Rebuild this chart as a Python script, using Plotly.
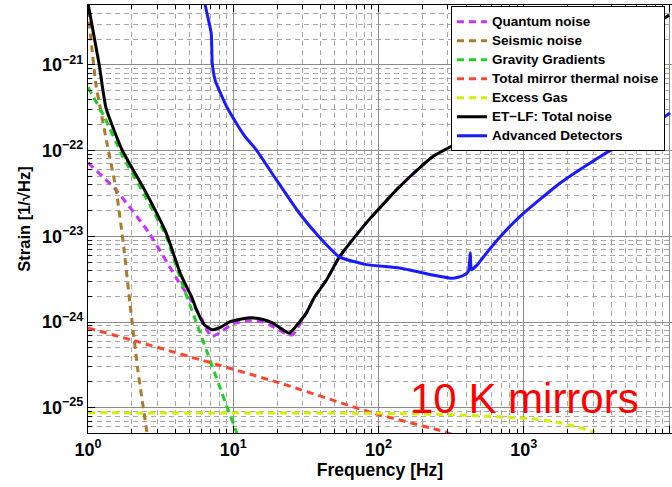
import plotly.graph_objects as go

# ---------------- data (strain stored as log10) -------------
quantum_f = [1.0, 1.56, 2.63, 4.24, 4.97, 6.0, 7.05, 8.0, 10.0, 12.9, 16.0, 18.6, 22.0, 25.5, 31.9, 36.2, 43.8, 53.8, 82.6, 139.6, 235.6, 444.9, 1000, 10000]
quantum_logh = [-22.14, -22.46, -22.96, -23.54, -23.71, -23.95, -24.17, -24.13, -24.02, -23.98, -24.0, -24.05, -24.12, -24.15, -23.89, -23.71, -23.51, -23.24, -22.84, -22.42, -22.07, -21.82, -21.46, -20.42]

seismic_f = [1.0, 1.07, 1.135, 1.35, 1.56, 1.77, 1.95, 2.2, 2.55, 2.75]
seismic_logh = [-20.35, -20.85, -21.23, -21.91, -22.45, -23.15, -23.8, -24.55, -25.3, -25.7]

gravity_f = [1.0, 1.29, 1.716, 2.51, 3.45, 4.36, 5.53, 6.51, 8.0, 9.1, 10.5, 11.5]
gravity_logh = [-21.26, -21.6, -22.05, -22.55, -23.0, -23.51, -23.99, -24.32, -24.74, -25.0, -25.28, -25.5]

thermal_f = [1.0, 2.01, 6.83, 20.8, 90.9, 285, 330]
thermal_logh = [-24.07, -24.21, -24.47, -24.71, -25.06, -25.28, -25.32]

gas_f = [1.0, 100, 300, 760, 1150, 1700, 2400, 3100]
gas_logh = [-25.06, -25.065, -25.08, -25.11, -25.13, -25.17, -25.23, -25.29]

etlf_f = [1.0, 1.19, 1.33, 1.716, 2.51, 3.45, 4.36, 5.21, 5.56, 6.3, 7.17, 8.2, 9.38, 12.9, 16.0, 18.6, 21.5, 24.3, 27.0, 31.9, 36.2, 43.8, 53.8, 82.6, 139.6, 235.6, 444.9, 1000, 10000]
etlf_logh = [-20.28, -20.98, -21.50, -21.99, -22.49, -22.96, -23.45, -23.72, -23.85, -24.03, -24.09, -24.06, -24.0, -23.95, -23.97, -24.01, -24.08, -24.13, -24.05, -23.89, -23.71, -23.51, -23.24, -22.84, -22.42, -22.07, -21.82, -21.46, -20.42]

adv_f = [6.2, 6.41, 7.05, 7.17, 7.51, 8.26, 9.09, 10.5, 12.1, 14.4, 19.8, 28.5, 39.2, 53.8, 82.6, 139.6, 235.6, 324, 380, 415, 428, 436, 480, 556, 683, 938, 1771, 3343, 6310, 10160]
adv_logh = [-20.1, -20.30, -20.63, -20.98, -21.18, -21.35, -21.50, -21.68, -21.84, -21.99, -22.34, -22.73, -23.01, -23.24, -23.33, -23.37, -23.45, -23.49, -23.46, -23.41, -23.19, -23.39, -23.33, -23.19, -23.01, -22.77, -22.38, -22.07, -21.79, -21.56]

series_names = ["Quantum noise", "Seismic noise", "Gravity Gradients",
                "Total mirror thermal noise", "Excess Gas",
                "ET\u2212LF: Total noise", "Advanced Detectors"]

x_tick_vals = [1, 10, 100, 1000, 10000]
x_tick_text = ["10<sup>0</sup>", "10<sup>1</sup>", "10<sup>2</sup>", "10<sup>3</sup>", "10<sup>4</sup>"]
y_tick_vals = [1e-25, 1e-24, 1e-23, 1e-22, 1e-21]
y_tick_text = ["10<sup>\u221225</sup>", "10<sup>\u221224</sup>", "10<sup>\u221223</sup>",
               "10<sup>\u221222</sup>", "10<sup>\u221221</sup>"]
x_minor_vals = [m * 10 ** k for k in range(0, 4) for m in range(2, 10)]
y_minor_vals = [m * 10.0 ** k for k in range(-26, -20) for m in range(2, 10)]

# ---------------- figure -------------
FONT = "Liberation Sans, Arial, sans-serif"
fig = go.Figure()

styles = [
    ("#C832FF", "7px,5px", 3, "spline"),
    ("#B0782A", "7px,5px", 3, "spline"),
    ("#1FD11F", "7px,5px", 3, "spline"),
    ("#FF4530", "7px,5px", 3, "spline"),
    ("#D4F000", "7px,5px", 3, "spline"),
    ("#000000", "solid", 3, "spline"),
    ("#1A1AFF", "solid", 3, "spline"),
]
data = [(quantum_f, quantum_logh), (seismic_f, seismic_logh), (gravity_f, gravity_logh),
        (thermal_f, thermal_logh), (gas_f, gas_logh), (etlf_f, etlf_logh), (adv_f, adv_logh)]

for name, (f, lh), (col, dash, w, shape) in zip(series_names, data, styles):
    fig.add_trace(go.Scatter(
        x=f, y=[10 ** v for v in lh], mode="lines",
        name='<span style="font-size:13.5px">' + name + "</span>",
        line=dict(color=col, dash=dash, width=w, shape=shape, smoothing=0.5),
    ))

axis_common = dict(
    type="log", showline=True, linecolor="black", linewidth=1,
    ticks="inside", ticklen=7, tickcolor="black", tickwidth=1,
    showgrid=True, gridcolor="#8c8c8c", gridwidth=1, zeroline=False,
    tickfont=dict(family=FONT, size=18, color="black", weight="bold"),
)

fig.update_layout(
    width=672, height=487,
    margin=dict(l=88, r=0, t=5, b=54),
    paper_bgcolor="white", plot_bgcolor="white",
    xaxis=dict(
        **axis_common, range=[0, 4.02], mirror="ticks",
        tickvals=x_tick_vals, ticktext=x_tick_text,
        minor=dict(tickvals=x_minor_vals, ticks="inside", ticklen=4, tickcolor="black",
                   showgrid=True, gridcolor="#a8a8a8", griddash="5px,4px", gridwidth=1),
        title=dict(text="Frequency [Hz]", font=dict(family=FONT, size=17.5, color="black", weight="bold"),
                   standoff=3),
    ),
    yaxis=dict(
        **axis_common, range=[-25.295, -20.30], mirror=False,
        tickvals=y_tick_vals, ticktext=y_tick_text,
        minor=dict(tickvals=y_minor_vals, ticks="inside", ticklen=4, tickcolor="black",
                   showgrid=True, gridcolor="#a8a8a8", griddash="5px,4px", gridwidth=1),
        title=dict(text="Strain [1/\u221aHz]", font=dict(family=FONT, size=16.5, color="black", weight="bold"),
                   standoff=7),
    ),
    legend=dict(
        x=0.988, xanchor="right", y=0.997, yanchor="top",
        bgcolor="white", bordercolor="black", borderwidth=1,
        font=dict(family=FONT, size=10, color="black", weight="bold"),
        tracegroupgap=0, itemwidth=30,
    ),
    showlegend=True,
    annotations=[dict(
        text="10 K mirrors", x=2.202, y=-24.887, xref="x", yref="y",
        xanchor="left", yanchor="middle", showarrow=False,
        font=dict(family=FONT, size=42, color="#FF0000"),
    )],
)

fig.write_html("out.html")
